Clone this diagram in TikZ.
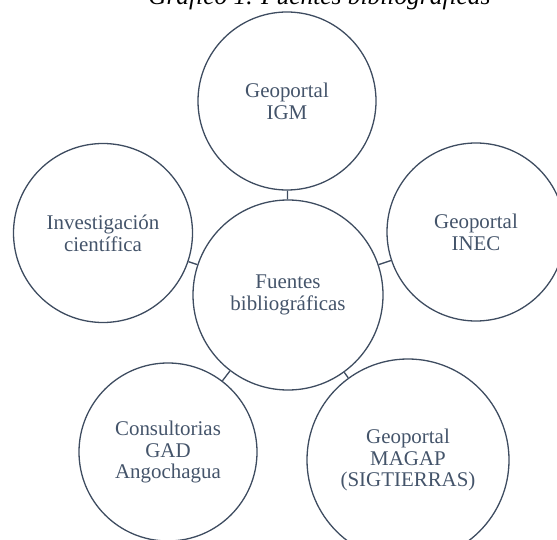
\documentclass[tikz,border=0pt]{standalone}
\usepackage{fontspec}
\setmainfont{Liberation Serif}
\definecolor{txtcol}{HTML}{44546A}
\definecolor{linecol}{HTML}{3E4C60}
\tikzset{
  bubble/.style={circle, draw=linecol, line width=1.3bp, inner sep=0pt, align=center,
    text=txtcol, font=\fontsize{21}{22}\selectfont},
  link/.style={draw=linecol, line width=1.3bp}
}
\begin{document}
\begin{tikzpicture}[x=1bp,y=-1bp]
\useasboundingbox (0,0) rectangle (557,540);
\node[anchor=base east, font=\itshape\fontsize{25.5}{27}\selectfont, text=black] (title) at (494,5) {Gráfico 1. Fuentes bibliográficas};
\node[bubble, minimum size=190bp] (c) at (288,295) {Fuentes\\bibliográficas};
\node[bubble, minimum size=178bp] (top) at (287,101) {Geoportal\\IGM};
\node[bubble, minimum size=179bp] (left) at (103,233) {Investigación\\científica};
\node[bubble, minimum size=178bp] (right) at (476,232) {Geoportal\\INEC};
\node[bubble, minimum size=178bp] (bl) at (168,452) {Consultorias\\GAD\\Angochagua};
\node[bubble, minimum size=202bp] (br) at (408,460) {Geoportal\\MAGAP\\(SIGTIERRAS)};
\draw[link] (c) -- (top);
\draw[link] (c) -- (left);
\draw[link] (c) -- (right);
\draw[link] (c) -- (bl);
\draw[link] (c) -- (br);
\end{tikzpicture}
\end{document}
